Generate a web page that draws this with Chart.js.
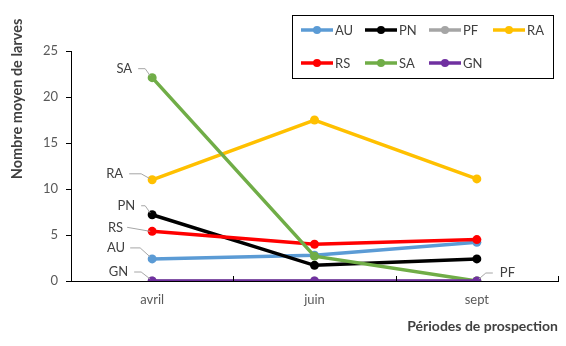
<!DOCTYPE html>
<html>
<head>
<meta charset="utf-8">
<script src="https://cdn.jsdelivr.net/npm/chart.js@4/dist/chart.umd.min.js"></script>
<style>
  html, body { margin: 0; padding: 0; background: #fff; }
  #wrap { width: 566px; height: 346px; }
</style>
</head>
<body>
<div id="wrap"><canvas id="larves" width="566" height="346"></canvas></div>
<script>
// data
const periods = ['avril', 'juin', 'sept'];
const seriesNames = ['AU', 'PN', 'PF', 'RA', 'RS', 'SA', 'GN'];
const AU = [2.4, 2.8, 4.2];
const PN = [7.2, 1.7, 2.4];
const PF = [0, 0, 0];
const RA = [11.0, 17.5, 11.1];
const RS = [5.4, 4.0, 4.5];
const SA = [22.1, 2.7, 0];
const GN = [0, 0, 0];
const yTicks = [0, 5, 10, 15, 20, 25];

const colors = ['#5B9BD5', '#000000', '#A5A5A5', '#FFC000', '#FF0000', '#70AD47', '#7030A0'];
const values = [AU, PN, PF, RA, RS, SA, GN];

// where each series name is written (point index, text offset from point, leader line)
const labelSpots = {
  SA: { i: 0, dx: -20, dy: -9, lead: [[-14, -9], [-7, -9], [-2, -2]] },
  RA: { i: 0, dx: -29, dy: -6, lead: [[-23, -6], [-11, -6], [-2, -1]] },
  PN: { i: 0, dx: -17, dy: -9, lead: [[-11, -9], [-7, -9], [-2, -2]] },
  RS: { i: 0, dx: -29, dy: -4, lead: [[-25, -4], [-2, 0]] },
  AU: { i: 0, dx: -27, dy: -11, lead: [[-22, -11], [-12, -11], [-2, -2]] },
  GN: { i: 0, dx: -24, dy: -9, lead: [[-18, -9], [-11, -9], [-2, -2]] },
  PF: { i: 2, dx: 23, dy: -8, lead: [[16, -8], [9, -8], [2, -2]] }
};

const FONT = 'Lato, "Open Sans", sans-serif';

const extras = {
  id: 'extras',
  afterDatasetsDraw(chart) {
    const ctx = chart.ctx;
    const x = chart.scales.x, y = chart.scales.y;
    ctx.save();

    // small x ticks pointing up, at category boundaries
    ctx.strokeStyle = '#000';
    ctx.lineWidth = 1;
    const n = periods.length;
    for (let k = 1; k <= n; k++) {
      const px = Math.round(x.left + k * (x.right - x.left) / n) + 0.5;
      ctx.beginPath();
      ctx.moveTo(px, y.bottom);
      ctx.lineTo(px, y.bottom - 5);
      ctx.stroke();
    }

    // series name labels with leader lines
    ctx.font = '13px ' + FONT;
    ctx.textBaseline = 'middle';
    chart.data.datasets.forEach((ds, d) => {
      const spot = labelSpots[ds.label];
      if (!spot) return;
      const px = x.getPixelForValue(spot.i);
      const py = y.getPixelForValue(ds.data[spot.i]);
      ctx.strokeStyle = '#A6A6A6';
      ctx.beginPath();
      spot.lead.forEach((p, j) => {
        if (j === 0) ctx.moveTo(px + p[0], py + p[1]);
        else ctx.lineTo(px + p[0], py + p[1]);
      });
      ctx.stroke();
      ctx.fillStyle = '#404040';
      ctx.textAlign = spot.dx < 0 ? 'right' : 'left';
      ctx.fillText(ds.label, px + spot.dx, py + spot.dy);
    });

    // axis titles
    ctx.fillStyle = '#404040';
    ctx.font = 'bold 14px ' + FONT;
    ctx.textAlign = 'right';
    ctx.fillText('Périodes de prospection', x.right, 326);
    ctx.save();
    ctx.translate(17, 99);
    ctx.rotate(-Math.PI / 2);
    ctx.textAlign = 'center';
    ctx.font = 'bold 14.5px ' + FONT;
    ctx.fillText('Nombre moyen de larves', 0, 0);
    ctx.restore();

    // legend box
    const bx = 292.5, by = 15.5, bw = 261, bh = 63;
    ctx.fillStyle = '#fff';
    ctx.fillRect(bx, by, bw, bh);
    ctx.strokeStyle = '#000';
    ctx.strokeRect(bx, by, bw, bh);
    ctx.font = '13px ' + FONT;
    ctx.textAlign = 'left';
    chart.data.datasets.forEach((ds, d) => {
      const col = d % 4, row = Math.floor(d / 4);
      const lx = 301 + col * 64, ly = 30 + row * 33;
      ctx.strokeStyle = ds.borderColor;
      ctx.lineWidth = 3.5;
      ctx.beginPath();
      ctx.moveTo(lx, ly);
      ctx.lineTo(lx + 32, ly);
      ctx.stroke();
      ctx.fillStyle = ds.borderColor;
      ctx.beginPath();
      ctx.arc(lx + 16, ly, 4, 0, Math.PI * 2);
      ctx.fill();
      ctx.fillStyle = '#404040';
      ctx.fillText(ds.label, lx + 34, ly + 1);
    });
    ctx.restore();
  }
};

new Chart(document.getElementById('larves'), {
  type: 'line',
  data: {
    labels: periods,
    datasets: seriesNames.map((name, i) => ({
      label: name,
      data: values[i],
      borderColor: colors[i],
      backgroundColor: colors[i],
      borderWidth: 3.5,
      pointRadius: 4.5,
      pointHoverRadius: 4.5,
      pointBorderWidth: 0,
      tension: 0,
      order: seriesNames.length - i
    }))
  },
  options: {
    responsive: false,
    animation: false,
    layout: { padding: { top: 51, right: 8, bottom: 0, left: 0 } },
    plugins: { legend: { display: false }, tooltip: { enabled: false } },
    scales: {
      x: {
        offset: true,
        afterFit(s) { s.height = 65; },
        grid: { display: false, drawTicks: false },
        border: { color: '#000', width: 1 },
        ticks: { color: '#595959', font: { family: FONT, size: 13 }, padding: 11 }
      },
      y: {
        min: 0,
        max: 25,
        afterFit(s) { s.width = 71; },
        afterBuildTicks(s) { s.ticks = yTicks.map(v => ({ value: v })); },
        grid: { drawOnChartArea: false, tickLength: 5, color: '#000' },
        border: { color: '#000', width: 1 },
        ticks: { color: '#595959', font: { family: FONT, size: 13 }, padding: 8 }
      }
    }
  },
  plugins: [extras]
});
</script>
</body>
</html>
